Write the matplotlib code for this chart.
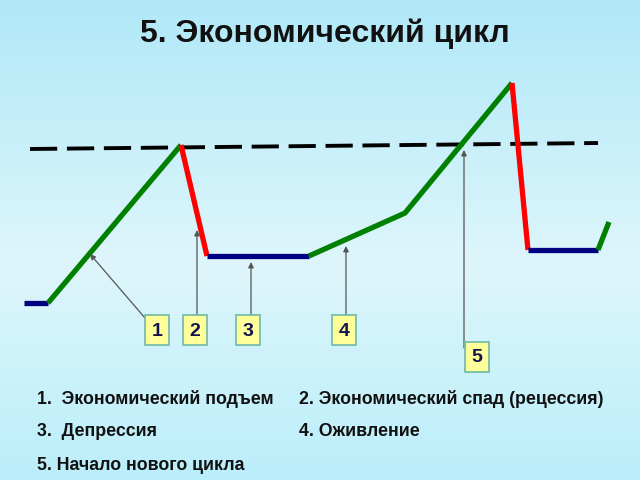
import matplotlib
matplotlib.use("Agg")
import matplotlib.pyplot as plt
import numpy as np
from matplotlib.patches import FancyBboxPatch

# Cycle path (pixel-like coordinates, y downward)
seg_x = [[24, 48], [48, 181], [181, 207], [207, 309], [309, 405, 512], [512, 528], [528, 598], [598, 609]]
seg_y = [[303, 303], [303, 145], [145, 256], [256, 256], [256, 213, 83], [83, 250], [250, 250], [250, 222]]
seg_c = ["#000080", "#008000", "#ff0000", "#000080", "#008000", "#ff0000", "#000080", "#008000"]

trend_x = [30, 598]
trend_y = [149, 143]

labels = ["1", "2", "3", "4", "5"]
box_x = [157, 195, 248, 344, 477]
box_y = [330, 330, 330, 330, 357]
arrow_start = [(145, 318), (197, 318), (251, 318), (346, 318), (464, 348)]
arrow_end = [(90, 254), (197, 230), (251, 262), (346, 246), (464, 150)]

title = "5. Экономический цикл"
legend_items = [
    ("1.  Экономический подъем", 37, 399),
    ("2. Экономический спад (рецессия)", 299, 399),
    ("3.  Депрессия", 37, 432),
    ("4. Оживление", 299, 432),
    ("5. Начало нового цикла", 37, 465),
]

fig = plt.figure(figsize=(6.4, 4.8), dpi=100)
ax = fig.add_axes([0, 0, 1, 1])
ax.set_xlim(0, 640)
ax.set_ylim(480, 0)
ax.axis("off")

# background gradient
top = np.array([176, 232, 248]) / 255
mid = np.array([222, 246, 251]) / 255
bot = np.array([186, 238, 250]) / 255
t = np.linspace(0, 1, 480)[:, None]
grad = np.where(t < 0.55, top + (mid - top) * (t / 0.55), mid + (bot - mid) * ((t - 0.55) / 0.45))
ax.imshow(grad[:, None, :].repeat(2, axis=1), extent=[0, 640, 480, 0], aspect="auto", zorder=0)

ax.plot(trend_x, trend_y, color="black", lw=2.8, ls=(0, (7, 2.5)), zorder=2)

for xs, ys, c in zip(seg_x, seg_y, seg_c):
    ax.plot(xs, ys, color=c, lw=3.8, solid_capstyle="butt", zorder=3)

for (sx, sy), (ex, ey) in zip(arrow_start, arrow_end):
    ax.annotate("", xy=(ex, ey), xytext=(sx, sy),
                arrowprops=dict(arrowstyle="-|>", color="#555555", lw=0.9,
                                mutation_scale=8, shrinkA=0, shrinkB=0), zorder=4)

for lab, bx, by in zip(labels, box_x, box_y):
    ax.add_patch(FancyBboxPatch((bx - 12, by - 15), 24, 30, boxstyle="square,pad=0",
                                facecolor="#ffff99", edgecolor="#6fb8a8", lw=1.2, zorder=5))
    ax.text(bx, by + 1, lab, ha="center", va="center", fontsize=14, fontweight="bold",
            color="#141450", family="Liberation Sans", zorder=6)

ax.text(325, 34, title, ha="center", va="center", fontsize=23, fontweight="bold",
        color="#111111", family="Liberation Sans")

for txt, x, y in legend_items:
    ax.text(x, y, txt, ha="left", va="center", fontsize=12.8, fontweight="bold",
            color="#111111", family="Liberation Sans")

fig.savefig("out.png", dpi=100)
